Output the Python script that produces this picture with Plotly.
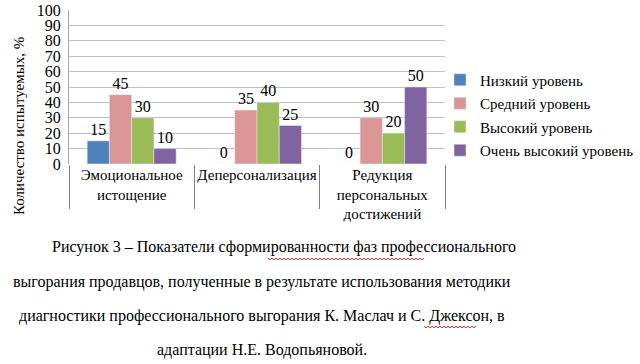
import plotly.graph_objects as go

categories = ["Эмоциональное<br>истощение", "Деперсонализация", "Редукция<br>персональных<br>достижений"]
series_names = ["Низкий уровень", "Средний уровень", "Высокий уровень", "Очень высокий уровень"]
low = [15, 0, 0]
mid = [45, 35, 30]
high = [30, 40, 20]
very_high = [10, 25, 50]
colors = ["#4F81BD", "#D99694", "#9BBB59", "#8064A2"]
y_ticks = list(range(0, 101, 10))

caption_lines = [
    "Рисунок 3 – Показатели сформированности фаз профессионального",
    "выгорания продавцов, полученные в результате использования методики",
    "диагностики профессионального выгорания К. Маслач и С. Джексон, в",
    "адаптации Н.Е. Водопьяновой.",
]

FONT = "Liberation Serif"

W, H = 640, 364
L, T = 69, 10
R = W - 445
B = H - 164
pw = W - L - R
ph = H - T - B


def px_x(x):
    return (x - L) / pw


def px_y(y):
    return (H - B - y) / ph


fig = go.Figure()
for i, (name, vals, col) in enumerate(zip(series_names, [low, mid, high, very_high], colors)):
    fig.add_trace(go.Bar(
        x=categories, y=vals, name=name, marker_color=col,
        text=[str(v) for v in vals], textposition="outside",
        textfont=dict(family=FONT, size=16, color="#000"),
        cliponaxis=False, legendgroup=f"g{i}",
    ))

fig.update_layout(
    width=W, height=H,
    margin=dict(l=L, r=R, t=T, b=B, autoexpand=False),
    paper_bgcolor="white", plot_bgcolor="white",
    barmode="group", bargap=0.29, bargroupgap=0,
    font=dict(family=FONT, size=15, color="#000"),
    legend=dict(
        x=px_x(440), y=px_y(115), xanchor="left", yanchor="middle",
        bgcolor="rgba(0,0,0,0)",
        font=dict(family=FONT, size=15, color="#000"),
        itemwidth=30, tracegroupgap=1, traceorder="grouped",
    ),
    showlegend=True,
)
fig.update_yaxes(
    range=[0, 100], tickvals=y_ticks, showgrid=True, gridcolor="#BFBFBF",
    gridwidth=1, showline=True, linecolor="#A6A6A6", linewidth=1,
    tickfont=dict(family=FONT, size=16), ticks="", zeroline=False, automargin=False,
    ticklabelstandoff=4, ticklabeloverflow="allow",
)
fig.update_xaxes(
    showline=False, ticks="outside", tickson="boundaries", ticklen=44,
    tickcolor="#808080", tickwidth=1, tickangle=0, automargin=False,
    tickfont=dict(family=FONT, size=15),
)

fig.add_annotation(
    text="Количество испытуемых, %", textangle=-90, xref="paper", yref="paper",
    x=px_x(19), y=px_y(126), showarrow=False, font=dict(family=FONT, size=15),
    xanchor="center", yanchor="middle",
)

line_y = [247, 282, 316, 350]
for i, (line, yy) in enumerate(zip(caption_lines, line_y)):
    if i == 0:
        fig.add_annotation(text=line, xref="paper", yref="paper", x=px_x(50), y=px_y(yy),
                           xanchor="left", yanchor="middle", showarrow=False,
                           font=dict(family=FONT, size=16))
    else:
        fig.add_annotation(text=line, xref="paper", yref="paper", x=px_x(262), y=px_y(yy),
                           xanchor="center", yanchor="middle", showarrow=False,
                           font=dict(family=FONT, size=16))


# spell-check style red wavy underlines
def wavy(x0, x1, y):
    pts = []
    x = x0
    k = 0
    while x <= x1:
        yy = y + (1 if k % 2 else -1)
        pts.append((px_x(x), px_y(yy)))
        x += 2
        k += 1
    return "M " + " L ".join(f"{a:.5f},{b:.5f}" for a, b in pts)


for x0, x1, y in [(268, 425, 259), (424, 477, 327)]:
    fig.add_shape(type="path", path=wavy(x0, x1, y), xref="paper", yref="paper",
                  line=dict(color="#E03030", width=1))

# remove the browser's default 8px body margin so the figure fills the window
fig.write_html("out.html", config={"displayModeBar": False},
               post_script="document.body.style.margin='0';")
